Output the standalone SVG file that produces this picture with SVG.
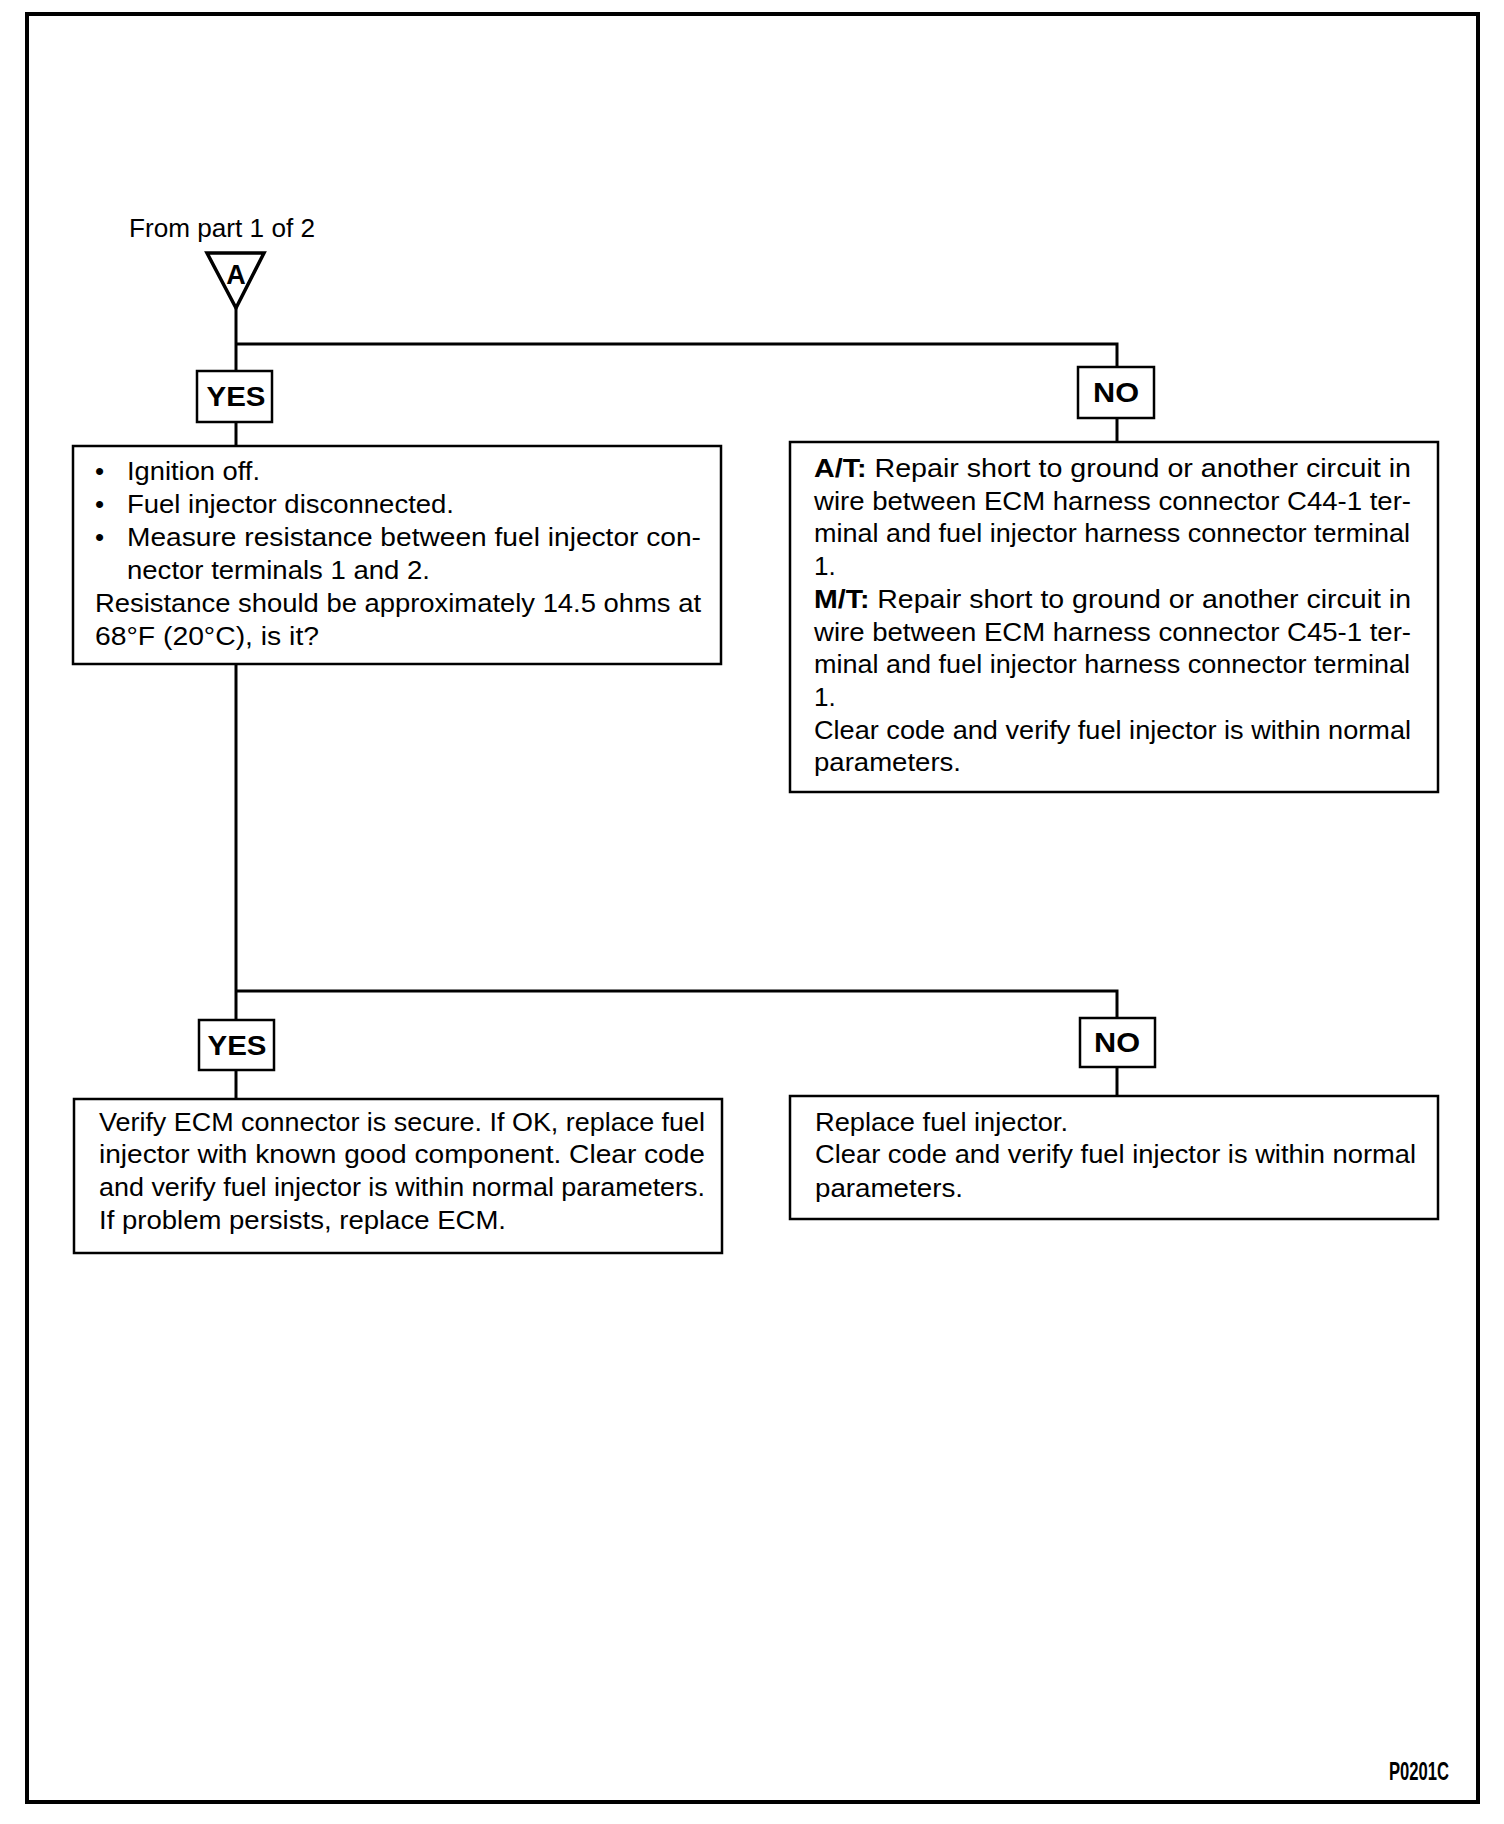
<svg xmlns="http://www.w3.org/2000/svg" width="1504" height="1824" viewBox="0 0 1504 1824">
<style>
  .box { fill: #fff; stroke: #000; stroke-width: 2.5; }
  .lbl { fill: #fff; stroke: #000; stroke-width: 2.5; }
  .wire { fill: none; stroke: #000; stroke-width: 3; }
  .t { font-family: "Liberation Sans", Arial, Helvetica, sans-serif; font-size: 26px; fill: #000; }
  .b { font-weight: bold; }
  .lt { font-family: "Liberation Sans", Arial, Helvetica, sans-serif; font-size: 27px; font-weight: bold; fill: #000; text-anchor: middle; }
</style>
<rect x="0" y="0" width="1504" height="1824" fill="#fff"/>
<rect x="27" y="14" width="1451" height="1788" fill="none" stroke="#000" stroke-width="4"/>

<g id="connectors">
  <path class="wire" d="M236 308 V371"/>
  <path class="wire" d="M236 344 H1117 V367"/>
  <path class="wire" d="M236 422 V446"/>
  <path class="wire" d="M1117 418 V442"/>
  <path class="wire" d="M236 664 V1020"/>
  <path class="wire" d="M236 991 H1117 V1018"/>
  <path class="wire" d="M236 1070 V1099"/>
  <path class="wire" d="M1117 1067 V1096"/>
</g>

<g id="start">
  <text class="t" x="129" y="237" font-size="26" textLength="186" lengthAdjust="spacingAndGlyphs">From part 1 of 2</text>
  <polygon points="207,253 264,253 236,308" fill="#fff" stroke="#000" stroke-width="3.5" stroke-linejoin="miter"/>
  <text class="lt" x="236" y="284" font-size="27">A</text>
</g>

<g id="yes1">
  <rect class="lbl" x="197" y="371" width="75" height="51"/>
  <text class="lt" x="236" y="406" textLength="59" lengthAdjust="spacingAndGlyphs">YES</text>
</g>

<g id="no1">
  <rect class="lbl" x="1078" y="367" width="76" height="51"/>
  <text class="lt" x="1116" y="402" textLength="46" lengthAdjust="spacingAndGlyphs">NO</text>
</g>

<g id="check">
  <rect class="box" x="73" y="446" width="648" height="218"/>
  <text class="t" x="95" y="480">•</text>
  <text class="t" x="127" y="480" textLength="133" lengthAdjust="spacingAndGlyphs">Ignition off.</text>
  <text class="t" x="95" y="513">•</text>
  <text class="t" x="127" y="513" textLength="327" lengthAdjust="spacingAndGlyphs">Fuel injector disconnected.</text>
  <text class="t" x="95" y="546">•</text>
  <text class="t" x="127" y="546" textLength="574" lengthAdjust="spacingAndGlyphs">Measure resistance between fuel injector con-</text>
  <text class="t" x="127" y="579" textLength="303" lengthAdjust="spacingAndGlyphs">nector terminals 1 and 2.</text>
  <text class="t" x="95" y="612" textLength="606" lengthAdjust="spacingAndGlyphs">Resistance should be approximately 14.5 ohms at</text>
  <text class="t" x="95" y="645" textLength="224" lengthAdjust="spacingAndGlyphs">68°F (20°C), is it?</text>
</g>

<g id="repair">
  <rect class="box" x="790" y="442" width="648" height="350"/>
  <text class="t" x="814" y="477" textLength="597" lengthAdjust="spacingAndGlyphs"><tspan class="b">A/T:</tspan> Repair short to ground or another circuit in</text>
  <text class="t" x="814" y="510" textLength="597" lengthAdjust="spacingAndGlyphs">wire between ECM harness connector C44-1 ter-</text>
  <text class="t" x="814" y="542" textLength="596" lengthAdjust="spacingAndGlyphs">minal and fuel injector harness connector terminal</text>
  <text class="t" x="814" y="575">1.</text>
  <text class="t" x="814" y="608" textLength="597" lengthAdjust="spacingAndGlyphs"><tspan class="b">M/T:</tspan> Repair short to ground or another circuit in</text>
  <text class="t" x="814" y="641" textLength="597" lengthAdjust="spacingAndGlyphs">wire between ECM harness connector C45-1  ter-</text>
  <text class="t" x="814" y="673" textLength="596" lengthAdjust="spacingAndGlyphs">minal and fuel injector harness connector terminal</text>
  <text class="t" x="814" y="706">1.</text>
  <text class="t" x="814" y="739" textLength="597" lengthAdjust="spacingAndGlyphs">Clear code and verify fuel injector is within normal</text>
  <text class="t" x="814" y="771" textLength="147" lengthAdjust="spacingAndGlyphs">parameters.</text>
</g>

<g id="yes2">
  <rect class="lbl" x="199" y="1020" width="75" height="50"/>
  <text class="lt" x="237" y="1055" textLength="59" lengthAdjust="spacingAndGlyphs">YES</text>
</g>

<g id="no2">
  <rect class="lbl" x="1080" y="1018" width="75" height="49"/>
  <text class="lt" x="1117" y="1052" textLength="46" lengthAdjust="spacingAndGlyphs">NO</text>
</g>

<g id="replace-ecm">
  <rect class="box" x="74" y="1099" width="648" height="154"/>
  <text class="t" x="99" y="1131" textLength="606" lengthAdjust="spacingAndGlyphs">Verify ECM connector is secure. If OK, replace fuel</text>
  <text class="t" x="99" y="1163" textLength="606" lengthAdjust="spacingAndGlyphs">injector with known good component. Clear  code</text>
  <text class="t" x="99" y="1196" textLength="606" lengthAdjust="spacingAndGlyphs">and verify fuel injector is within normal parameters.</text>
  <text class="t" x="99" y="1229" textLength="407" lengthAdjust="spacingAndGlyphs">If problem persists, replace ECM.</text>
</g>

<g id="replace-injector">
  <rect class="box" x="790" y="1096" width="648" height="123"/>
  <text class="t" x="815" y="1131" textLength="253" lengthAdjust="spacingAndGlyphs">Replace fuel injector.</text>
  <text class="t" x="815" y="1163" textLength="601" lengthAdjust="spacingAndGlyphs">Clear code and verify fuel injector is within normal</text>
  <text class="t" x="815" y="1197" textLength="148" lengthAdjust="spacingAndGlyphs">parameters.</text>
</g>

<text class="t" x="1389" y="1780" font-size="14" font-weight="bold" textLength="60" lengthAdjust="spacingAndGlyphs">P0201C</text>
</svg>
